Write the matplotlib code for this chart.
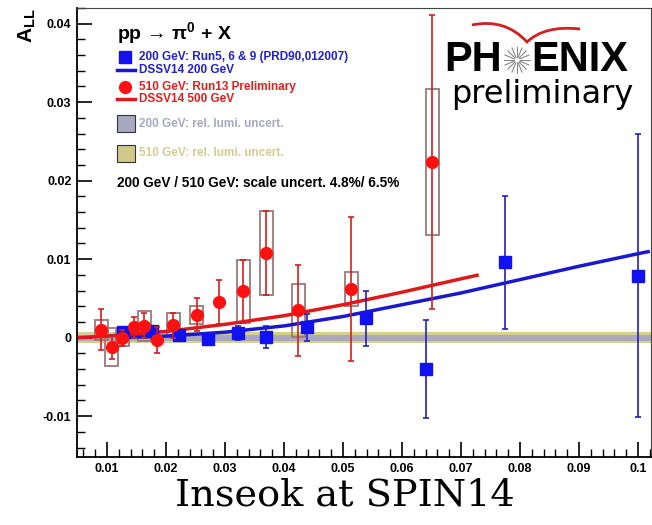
import numpy as np
import matplotlib
matplotlib.use("Agg")
import matplotlib.pyplot as plt
from matplotlib.patches import Rectangle, PathPatch
from matplotlib.path import Path
from matplotlib.lines import Line2D

plt.rcParams['font.family'] = ['Liberation Sans', 'DejaVu Sans']
plt.rcParams['mathtext.fontset'] = 'custom'
plt.rcParams['mathtext.rm'] = 'Liberation Sans:bold'
plt.rcParams['mathtext.bf'] = 'Liberation Sans:bold'
plt.rcParams['mathtext.it'] = 'Liberation Sans:bold'

# ---------- 200 GeV (Run5, 6 & 9) ----------
x_200 = [0.0127, 0.0176, 0.0222, 0.0271, 0.0322, 0.0370, 0.0439, 0.0539, 0.0641, 0.0775, 0.1000]
all_200 = [0.0007, 0.0008, 0.0003, -0.0002, 0.0006, 0.0001, 0.0013, 0.0025, -0.0040, 0.0096, 0.0079]
err_200 = [0.0004, 0.0004, 0.0004, 0.0005, 0.0009, 0.0014, 0.0017, 0.0035, 0.0062, 0.0085, 0.0180]

# ---------- 510 GeV (Run13 preliminary) ----------
x_510 = [0.0090, 0.0108, 0.0126, 0.0145, 0.0163, 0.0184, 0.0212, 0.0252, 0.0290, 0.0331, 0.0370, 0.0424, 0.0514, 0.0651]
all_510 = [0.0010, -0.0012, 0.0000, 0.0013, 0.0015, -0.0003, 0.0016, 0.0029, 0.0046, 0.0059, 0.0108, 0.0035, 0.0062, 0.0224]
err_510 = [0.0026, 0.0015, 0.0010, 0.0013, 0.0016, 0.0017, 0.0016, 0.0021, 0.0028, 0.0040, 0.0053, 0.0058, 0.0092, 0.0187]
sys_510 = [0.0013, 0.0024, 0.0010, 0.0, 0.0019, 0.0, 0.0015, 0.0011, 0.0, 0.0040, 0.0053, 0.0034, 0.0022, 0.0093]

# ---------- DSSV14 curves ----------
dssv200_x = [0.012, 0.020, 0.030, 0.040, 0.050, 0.060, 0.070, 0.080, 0.090, 0.100, 0.102]
dssv200_y = [0.0000, 0.0002, 0.0007, 0.0015, 0.0027, 0.0042, 0.0057, 0.0074, 0.0091, 0.0107, 0.0110]
dssv500_x = [0.005, 0.010, 0.020, 0.030, 0.040, 0.050, 0.060, 0.070, 0.073]
dssv500_y = [0.0000, 0.0002, 0.0008, 0.0017, 0.0028, 0.0042, 0.0058, 0.0075, 0.0080]

# rel. lumi bands (half widths)
lumi_200 = 0.0004
lumi_510 = 0.0007

W, H = 652, 525
fig = plt.figure(figsize=(W / 100, H / 100), dpi=100)


def fx(px):
    return px / W


def fy(py):
    return 1 - py / H


ax = fig.add_axes([fx(77), fy(457), fx(651) - fx(77), fy(8) - fy(457)])
ax.set_xlim(0.0049, 0.1022)
ax.set_ylim(-0.0152, 0.042)

# bands
ax.axhspan(-lumi_510, lumi_510, color="#d8d090", lw=0, zorder=1)
ax.axhspan(-lumi_200, lumi_200, color="#a8a8c0", lw=0, zorder=1.1)

# curves
ax.plot(dssv500_x, dssv500_y, color="#e01818", lw=2.5, zorder=3, solid_capstyle="butt")
ax.plot(dssv200_x, dssv200_y, color="#1818d0", lw=2.5, zorder=3, solid_capstyle="butt")

# sys boxes
for xx, yy, s in zip(x_510, all_510, sys_510):
    if s > 0:
        ax.add_patch(Rectangle((xx - 0.0011, yy - s), 0.0022, 2 * s, fill=False,
                               ec="#9c7878", lw=1.3, zorder=2))

ax.errorbar(x_510, all_510, yerr=err_510, fmt="o", color="#ff1010", ecolor="#d02020",
            ms=8.5, elinewidth=1.2, capsize=2, capthick=1.2, zorder=5)
ax.errorbar(x_200, all_200, yerr=err_200, fmt="s", color="#1010f0", ecolor="#2020c0",
            ms=8, elinewidth=1.2, capsize=2, capthick=1.2, zorder=4)

# ticks
ax.set_xticks(np.arange(0.01, 0.1001, 0.01))
ax.set_xticklabels(["0.01", "0.02", "0.03", "0.04", "0.05", "0.06", "0.07", "0.08", "0.09", "0.1"])
ax.set_xticks(np.arange(0.006, 0.1021, 0.002), minor=True)
ax.set_yticks([-0.01, 0, 0.01, 0.02, 0.03, 0.04])
ax.set_yticklabels(["-0.01", "0", "0.01", "0.02", "0.03", "0.04"])
ax.set_yticks(np.arange(-0.014, 0.0421, 0.002), minor=True)
ax.tick_params(which="both", direction="in", top=False, right=False, labelsize=9)
ax.tick_params(which="major", length=11, width=1.2)
ax.tick_params(which="minor", length=5.5, width=1.0)
ax.tick_params(axis="y", pad=4)
ax.tick_params(axis="x", pad=4)
for lab in ax.get_xticklabels() + ax.get_yticklabels():
    lab.set_fontweight("bold")
for side in ["left", "bottom"]:
    ax.spines[side].set_linewidth(1.3)
for side in ["top", "right"]:
    ax.spines[side].set_linewidth(0.8)
    ax.spines[side].set_color("#444444")

# y label
fig.text(fx(27), fy(8), r"$\mathbf{A}_{\mathbf{LL}}$", rotation=90, ha="center", va="top", fontsize=15)

# ---------- legend ----------
fig.text(fx(117), fy(33), r"pp → $\pi^{0}$ + X", fontsize=14, fontweight="bold",
         ha="left", va="center")
leg_labels = ["200 GeV: Run5, 6 & 9 (PRD90,012007)", "DSSV14 200 GeV",
              "510 GeV: Run13 Preliminary", "DSSV14 500 GeV",
              "200 GeV: rel. lumi. uncert.", "510 GeV: rel. lumi. uncert."]
leg_colors = ["#2020d0", "#2020d0", "#e02020", "#e02020", "#a8a8c0", "#d4cc90"]
leg_y = [57, 70, 87, 99, 124, 153]
for lab, col, yy in zip(leg_labels, leg_colors, leg_y):
    fig.text(fx(139), fy(yy), lab, color=col, fontsize=8.5, fontweight="bold", ha="left", va="center")

fig.add_artist(Line2D([fx(125)], [fy(57)], marker="s", ms=8, color="#1010f0", ls="none"))
fig.add_artist(Line2D([fx(125)], [fy(87)], marker="o", ms=8.5, color="#ff1010", ls="none"))
fig.add_artist(Line2D([fx(117), fx(135)], [fy(70), fy(70)], color="#1818d0", lw=2.5))
fig.add_artist(Line2D([fx(117), fx(135)], [fy(99), fy(99)], color="#e01818", lw=2.5))
fig.add_artist(Rectangle((fx(117), fy(132)), fx(18), 17 / H, fc="#a8a8c0", ec="#333333", lw=0.8,
                         transform=fig.transFigure))
fig.add_artist(Rectangle((fx(117), fy(162)), fx(18), 17 / H, fc="#cfc88a", ec="#333333", lw=0.8,
                         transform=fig.transFigure))
fig.text(fx(117), fy(183), "200 GeV / 510 GeV: scale uncert. 4.8%/ 6.5%", fontsize=9.8,
         fontweight="bold", ha="left", va="center")

# ---------- PHENIX logo ----------
fig.text(fx(502), fy(60), "PH", fontsize=30, fontweight="bold", ha="right", va="center")
fig.text(fx(531), fy(60), "ENIX", fontsize=30, fontweight="bold", ha="left", va="center")
fig.text(fx(542), fy(94), "preliminary", fontsize=23, family="DejaVu Sans", ha="center", va="center")
cx, cy = 517, 60
for ang in np.linspace(0, 2 * np.pi, 17)[:-1]:
    fig.add_artist(Line2D([fx(cx + 3 * np.cos(ang)), fx(cx + 13 * np.cos(ang))],
                          [fy(cy + 3 * np.sin(ang)), fy(cy + 13 * np.sin(ang))],
                          color="#888888", lw=0.8))
wing = Path([(fx(472), fy(25)), (fx(505), fy(18)), (fx(527), fy(42)),
             (fx(545), fy(25)), (fx(580), fy(29))],
            [Path.MOVETO, Path.CURVE3, Path.CURVE3, Path.CURVE3, Path.CURVE3])
fig.add_artist(PathPatch(wing, fill=False, ec="#d02020", lw=2, transform=fig.transFigure))

# ---------- footer ----------
fig.text(fx(345), fy(496), "Inseok at SPIN14", fontsize=27.5, family="DejaVu Serif",
         ha="center", va="center")

fig.savefig("out.png", dpi=100)
